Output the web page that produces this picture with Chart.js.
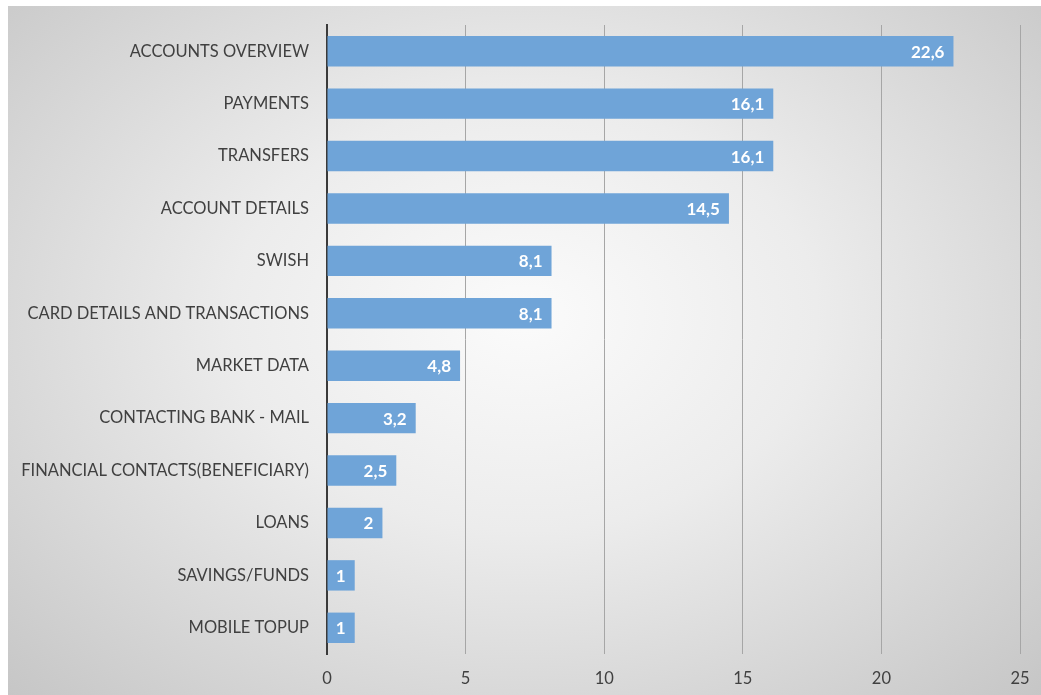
<!DOCTYPE html>
<html>
<head>
<meta charset="utf-8">
<script src="https://cdn.jsdelivr.net/npm/chart.js@4/dist/chart.umd.min.js"></script>
<style>
  html, body { margin: 0; padding: 0; background: #fff; }
  #wrap { position: relative; width: 1041px; height: 695px; overflow: hidden; }
  #bg {
    position: absolute; left: 8px; top: 6px; right: 0; bottom: 0;
    background: radial-gradient(ellipse farthest-corner at 50% 45%, #fbfbfb 0%, #ececec 40%, #c6c6c6 100%);
  }
  #usage { position: absolute; left: 0; top: 0; }
</style>
</head>
<body>
<div id="wrap">
  <div id="bg"></div>
  <canvas id="usage" width="1041" height="695"></canvas>
</div>
<script>
var features = [
    'ACCOUNTS OVERVIEW',
    'PAYMENTS',
    'TRANSFERS',
    'ACCOUNT DETAILS',
    'SWISH',
    'CARD DETAILS AND TRANSACTIONS',
    'MARKET DATA',
    'CONTACTING BANK - MAIL',
    'FINANCIAL CONTACTS(BENEFICIARY)',
    'LOANS',
    'SAVINGS/FUNDS',
    'MOBILE TOPUP'
];
var usage_share = [22.6, 16.1, 16.1, 14.5, 8.1, 8.1, 4.8, 3.2, 2.5, 2, 1, 1];
var x_ticks = [0, 5, 10, 15, 20, 25];

var label_font = "'Lato', 'Open Sans', sans-serif";

// white value text at the inner end of every bar, decimal comma
var barValues = {
    id: 'barValues',
    afterDatasetsDraw: function(chart) {
        var ctx = chart.ctx;
        var meta = chart.getDatasetMeta(0);
        ctx.save();
        ctx.fillStyle = '#ffffff';
        ctx.font = 'bold 17px ' + label_font;
        ctx.textAlign = 'right';
        ctx.textBaseline = 'middle';
        meta.data.forEach(function(bar, i) {
            var txt = String(usage_share[i]).replace('.', ',');
            ctx.fillText(txt, bar.x - 9, bar.y + 1);
        });
        ctx.restore();
    }
};

var barc_usage = new Chart(document.getElementById('usage'), {
    type: 'bar',
    data: {
        labels: features,
        datasets: [{
            data: usage_share,
            backgroundColor: '#6fa4d8',
            borderWidth: 0,
            categoryPercentage: 1,
            barPercentage: 0.58
        }]
    },
    options: {
        indexAxis: 'y',
        responsive: false,
        animation: false,
        layout: { padding: { top: 25, right: 21, left: 0, bottom: 0 } },
        plugins: {
            legend: { display: false },
            tooltip: { enabled: false }
        },
        scales: {
            x: {
                min: 0,
                max: 25,
                afterBuildTicks: function(axis) {
                    axis.ticks = x_ticks.map(function(v) { return { value: v }; });
                },
                afterFit: function(axis) {
                    axis.height = 41;
                    axis.paddingLeft = 0;
                    axis.paddingRight = 0;
                },
                grid: {
                    color: function(c) { return c.tick && c.tick.value === 0 ? 'rgba(0,0,0,0)' : '#a6a6a6'; },
                    lineWidth: 1,
                    drawTicks: false
                },
                border: { display: false },
                ticks: {
                    color: '#404040',
                    padding: 15,
                    font: { family: label_font, size: 16.5 }
                }
            },
            y: {
                afterFit: function(axis) {
                    axis.width = 327;
                    axis.paddingTop = 0;
                    axis.paddingBottom = 0;
                },
                grid: { display: false, drawTicks: false },
                border: { display: true, color: '#3a3a3a', width: 2 },
                ticks: {
                    color: '#404040',
                    padding: 18,
                    font: { family: label_font, size: 16.5 }
                }
            }
        }
    },
    plugins: [barValues]
});
</script>
</body>
</html>
